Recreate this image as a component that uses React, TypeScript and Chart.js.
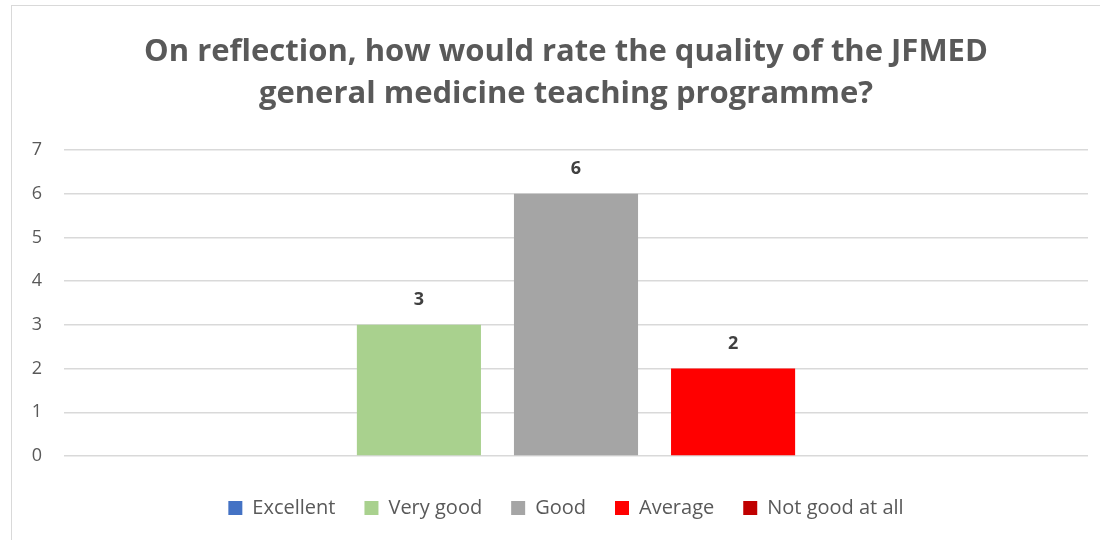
import React, { useEffect, useRef } from "react";
import { Chart, registerables } from "chart.js";

Chart.register(...registerables);

const categories = ["Quality"];
const seriesNames = ["Excellent", "Very good", "Good", "Average", "Not good at all"];
const seriesValues = [[0], [3], [6], [2], [0]];
const seriesColors = ["#4472C4", "#A9D18E", "#A5A5A5", "#FF0000", "#C00000"];
const yTicks = [0, 1, 2, 3, 4, 5, 6, 7];
const titleLines = [
  "On reflection, how would rate the quality of the JFMED",
  "general medicine teaching programme?",
];

const FONT = "'Open Sans', 'DejaVu Sans', sans-serif";

const valueLabels = {
  id: "valueLabels",
  afterDatasetsDraw(chart: any) {
    const ctx = chart.ctx;
    ctx.save();
    ctx.font = `bold 18px ${FONT}`;
    ctx.fillStyle = "#404040";
    ctx.textAlign = "center";
    ctx.textBaseline = "middle";
    chart.data.datasets.forEach((ds: any, di: number) => {
      const meta = chart.getDatasetMeta(di);
      meta.data.forEach((el: any, i: number) => {
        const v = ds.data[i];
        if (!v) return;
        ctx.fillText(String(v), el.x, el.y - 25);
      });
    });
    ctx.restore();
  },
};

export default function App() {
  const ref = useRef<HTMLCanvasElement>(null);
  useEffect(() => {
    const chart = new Chart(ref.current!, {
      type: "bar",
      data: {
        labels: categories,
        datasets: seriesNames.map((name, i) => ({
          label: name,
          data: seriesValues[i],
          backgroundColor: seriesColors[i],
          borderWidth: 0,
          categoryPercentage: 0.767,
          barPercentage: 0.79,
          yAxisID: "y",
        })),
      },
      options: {
        animation: false,
        responsive: false,
        maintainAspectRatio: false,
        layout: { padding: { left: 20, right: 12, top: 30, bottom: 12 } },
        plugins: {
          title: {
            display: true,
            text: titleLines,
            color: "#595959",
            font: { family: FONT, size: 31, weight: "bold", lineHeight: 1.355 },
            padding: { top: 1, bottom: 35 },
          },
          legend: {
            position: "bottom",
            labels: {
              boxWidth: 14,
              boxHeight: 14,
              color: "#595959",
              padding: 29,
              font: { family: FONT, size: 20 },
            },
          },
          tooltip: { enabled: false },
        },
        scales: {
          x: {
            ticks: { display: false },
            grid: { display: false },
            border: { display: false },
            afterFit: (scale: any) => {
              scale.height = 13;
            },
          },
          y: {
            position: "left",
            min: 0,
            max: 7,
            afterBuildTicks: (scale: any) => {
              scale.ticks = yTicks.map((v) => ({ value: v }));
            },
            afterFit: (scale: any) => {
              scale.width = 44;
            },
            ticks: {
              stepSize: 1,
              color: "#595959",
              padding: 22,
              font: { family: FONT, size: 18 },
            },
            grid: { color: "#D9D9D9", lineWidth: 1.5, drawTicks: false },
            border: { display: false },
          },
          yRight: {
            position: "right",
            min: 0,
            max: 7,
            ticks: { display: false },
            grid: { display: false, drawOnChartArea: false },
            border: { display: false },
            afterFit: (scale: any) => {
              scale.width = 24;
            },
          },
        },
      },
      plugins: [valueLabels],
    });
    return () => chart.destroy();
  }, []);
  return (
    <div style={{ position: "fixed", left: 0, top: 0, width: 1100, height: 540, background: "#fff", overflow: "hidden" }}>
      <div
        style={{
          position: "absolute",
          left: 11,
          top: 5,
          width: 1100,
          height: 540,
          border: "1.5px solid #D9D9D9",
          boxSizing: "border-box",
        }}
      />
      <canvas ref={ref} width={1124} height={540} style={{ position: "absolute", left: 0, top: 0 }} />
    </div>
  );
}
